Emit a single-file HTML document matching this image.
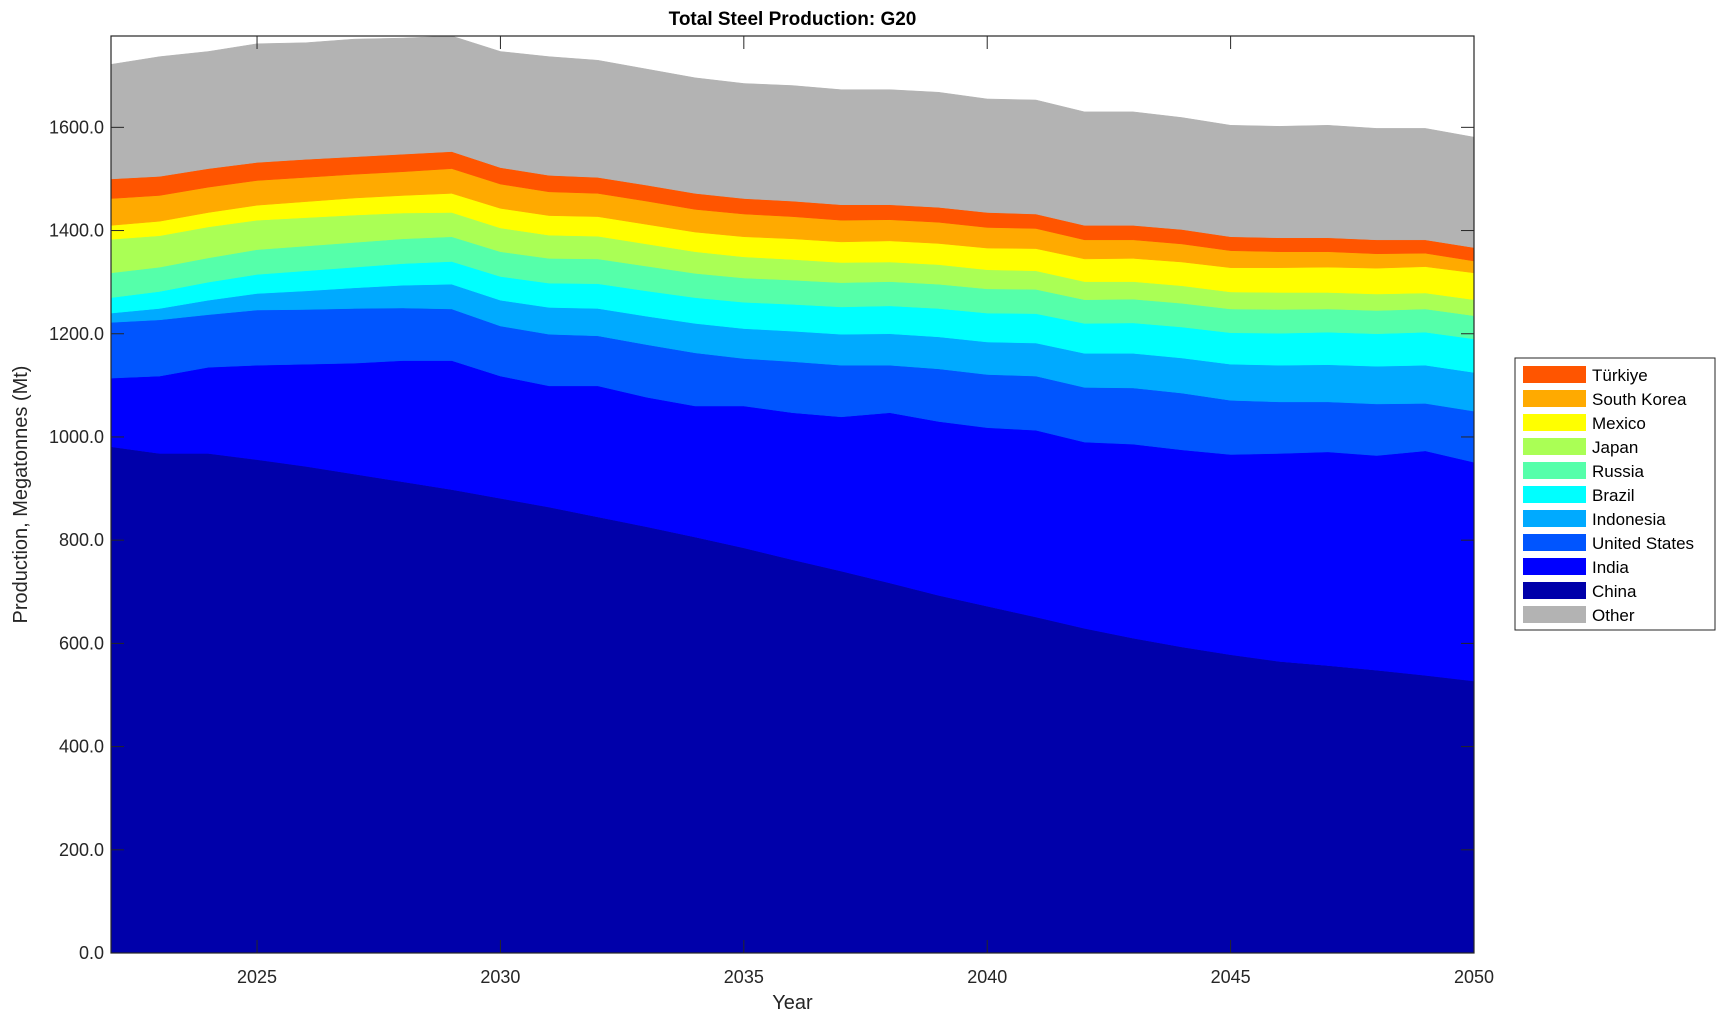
<!DOCTYPE html>
<html><head><meta charset="utf-8"><style>
body{margin:0;background:#fff;}
svg{display:block;font-family:"Liberation Sans",sans-serif;}
</style></head><body>
<svg id="chart" width="1726" height="1021">
<g id="areas"></g>
<g id="axes"></g>
<g id="legend"></g>
</svg>
<script>
const years = [2022,2023,2024,2025,2026,2027,2028,2029,2030,2031,2032,2033,2034,2035,2036,2037,2038,2039,2040,2041,2042,2043,2044,2045,2046,2047,2048,2049,2050];
const seriesNames = ["China","India","United States","Indonesia","Brazil","Russia","Japan","Mexico","South Korea","Türkiye","Other"];
const china = [981,968,968,956,943,928,913,898,881,864,845,826,806,785,762,740,717,693,672,651,629,610,593,578,565,557,548,538,527];
const india = [133,150,167,183,198,215,235,250,237,235,254,251,254,275,285,299,330,337,346,362,361,376,382,388,403,414,416,435,424];
const unitedStates = [108,109,102,107,106,106,102,100,97,100,97,102,103,92,99,100,92,102,103,105,106,109,110,105,100,97,100,92,99];
const indonesia = [18,22,28,32,36,40,44,48,50,52,53,55,57,58,59,60,61,62,63,64,66,67,68,70,71,72,73,74,75];
const brazil = [30,33,35,37,39,40,42,44,46,47,48,49,50,51,52,53,54,55,56,57,58,59,60,61,62,63,63,64,65];
const russia = [48,47,47,48,48,48,48,48,48,48,48,48,47,47,47,47,47,47,47,47,46,46,46,46,46,45,45,45,45];
const japan = [65,61,60,57,55,53,50,47,46,45,44,43,42,41,40,39,38,38,37,36,35,34,34,33,33,32,32,31,31];
const mexico = [27,28,28,29,31,33,34,37,38,38,38,38,38,39,40,40,41,41,42,43,44,45,46,47,48,49,50,51,52];
const southKorea = [52,50,49,48,47,46,46,48,47,46,45,45,44,44,43,42,41,41,40,39,37,36,35,33,31,30,28,26,23];
const turkiye = [38,37,36,35,35,34,34,33,32,32,31,31,31,30,30,30,29,29,29,28,28,28,28,27,27,27,27,26,26];
const other = [222,232,227,230,226,228,225,224,225,230,227,225,224,223,224,223,223,223,220,221,220,220,217,216,216,218,216,216,214];
const yTicks = [0,200,400,600,800,1000,1200,1400,1600];
const xTicks = [2025,2030,2035,2040,2045,2050];

const colors = ["#0000AA","#0000FF","#0055FF","#00AAFF","#00FFFF","#55FFAA","#AAFF55","#FFFF00","#FFAA00","#FF5500","#B3B3B3"];
const series = [china,india,unitedStates,indonesia,brazil,russia,japan,mexico,southKorea,turkiye,other];
const NS='http://www.w3.org/2000/svg';
const L=111,R=1474,T=36,B=953,yMax=1777;
const x = v => L + (v-2022)/(2050-2022)*(R-L);
const y = v => B - v/yMax*(B-T);
function mk(tag,attrs,parent){const e=document.createElementNS(NS,tag);for(const k in attrs)e.setAttribute(k,attrs[k]);parent.appendChild(e);return e;}
const areas=document.getElementById('areas');
let base=years.map(()=>0);
series.forEach((s,si)=>{
  const top=base.map((b,i)=>b+s[i]);
  let d='M'+years.map((yr,i)=>x(yr)+','+y(top[i])).join('L');
  for(let i=years.length-1;i>=0;i--) d+='L'+x(years[i])+','+y(base[i]);
  d+='Z';
  const p=mk('path',{d:d,fill:colors[si],stroke:colors[si],'stroke-width':0.5},areas);
  
  
  base=top;
});
const axes=document.getElementById('axes');
const frame=mk('rect',{x:L,y:T,width:R-L,height:B-T,fill:'none',stroke:'#262626','stroke-width':1.2},axes);


yTicks.forEach(v=>{
  mk('line',{x1:L,x2:L+13,y1:y(v),y2:y(v),stroke:'#262626'},axes);
  mk('line',{x1:R,x2:R-13,y1:y(v),y2:y(v),stroke:'#262626'},axes);
  const t=mk('text',{x:L-7,y:y(v)+6,'text-anchor':'end','font-size':18,fill:'#262626'},axes);
  t.textContent=v.toFixed(1);
  
  
});
xTicks.forEach(v=>{
  mk('line',{x1:x(v),x2:x(v),y1:B,y2:B-13,stroke:'#262626'},axes);
  mk('line',{x1:x(v),x2:x(v),y1:T,y2:T+13,stroke:'#262626'},axes);
  const t=mk('text',{x:x(v),y:B+30,'text-anchor':'middle','font-size':18,fill:'#262626'},axes);
  t.textContent=v;
  
  
});
const title=mk('text',{x:(L+R)/2,y:25,'text-anchor':'middle','font-size':19,'font-weight':'bold',fill:'#000'},axes);
title.textContent='Total Steel Production: G20';


const xt=mk('text',{x:(L+R)/2,y:1009,'text-anchor':'middle','font-size':20,fill:'#262626'},axes);
xt.textContent='Year';


const yt=mk('text',{x:0,y:0,'text-anchor':'middle','font-size':20,fill:'#262626',transform:'translate(27,'+((T+B)/2)+') rotate(-90)'},axes);
yt.textContent='Production, Megatonnes (Mt)';


const lg=document.getElementById('legend');
const box=mk('rect',{x:1515,y:358,width:200,height:272,fill:'#fff',stroke:'#262626','stroke-width':1},lg);


for(let k=0;k<11;k++){
  const idx=[9,8,7,6,5,4,3,2,1,0,10][k];
  const yy=366+k*24;
  const g=mk('g',{},lg);
  
  
  mk('rect',{x:1523,y:yy,width:63,height:17,fill:colors[idx]},g);
  const t=mk('text',{x:1592,y:yy+15,'font-size':17,fill:'#000'},g);
  t.textContent=seriesNames[idx];
}
</script>
</body></html>
